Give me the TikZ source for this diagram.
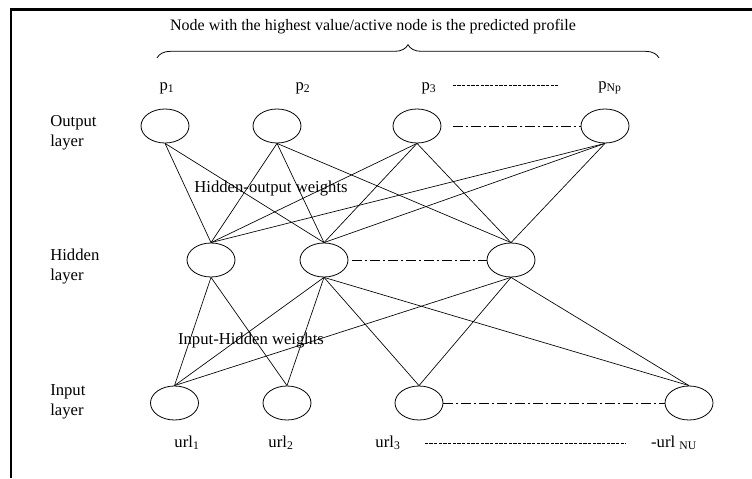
\documentclass[tikz,border=0pt]{standalone}
\usepackage{fontspec}
\setmainfont{Liberation Serif}
\usetikzlibrary{shapes.geometric,decorations.pathreplacing}
\tikzset{
    annunit/.style={draw, ellipse, minimum width=36pt, minimum height=25.5pt, inner sep=0pt, line width=0.6pt},
    annlayer/.style={align=left, anchor=west, inner sep=0pt, font=\fontsize{12.5}{15}\selectfont},
    anntext/.style={inner sep=0pt, font=\fontsize{12.5}{15}\selectfont},
    annline/.style={draw, line width=0.5pt},
    anndashdot/.style={draw, line width=0.6pt, dash pattern=on 7pt off 2.5pt on 1.5pt off 2.5pt},
    anndotted/.style={draw, line width=0.5pt, dash pattern=on 2.5pt off 1pt},
    annbrace/.style={draw, line width=0.6pt, decorate, decoration={brace, amplitude=10pt}},
    annframe/.style={draw, line width=1.7pt}
}

\begin{document}
\begin{tikzpicture}[x=0.75pt, y=0.75pt]
    \useasboundingbox (0,0) rectangle (752,478);
    \coordinate (frameBL) at (10.8,0);
    \coordinate (frameTL) at (10.8,468.5);
    \coordinate (frameTR) at (752,468.5);
    \draw[annframe] (frameBL) -- (frameTL) -- (frameTR);
    % output layer
    \node[annunit] (out1) at (165,352) {};
    \node[annunit] (out2) at (277,352) {};
    \node[annunit] (out3) at (417,352) {};
    \node[annunit] (out4) at (605,352) {};
    % hidden layer
    \node[annunit] (hid1) at (211,218) {};
    \node[annunit] (hid2) at (324,218) {};
    \node[annunit] (hid3) at (511,218) {};
    % input layer
    \node[annunit] (in1) at (174.5,75) {};
    \node[annunit] (in2) at (287,75) {};
    \node[annunit] (in3) at (419,75) {};
    \node[annunit] (in4) at (689,75) {};
    \node[annlayer] (outlabel) at (50,345) {Output\\layer};
    \node[annlayer] (hidlabel) at (50,211) {Hidden\\layer};
    \node[annlayer] (inlabel) at (50,76) {Input\\layer};
    \node[anntext, font=\fontsize{12}{14}\selectfont] (title) at (373,451) {Node with the highest value/active node is the predicted profile};
    \coordinate (braceL) at (157,420);
    \coordinate (braceR) at (659,420);
    \draw[annbrace] (braceL) -- (braceR);
    \node[anntext] (p1) at (167,390) {p\textsubscript{1}};
    \node[anntext] (p2) at (303,390) {p\textsubscript{2}};
    \node[anntext] (p3) at (429,390) {p\textsubscript{3}};
    \node[anntext] (pN) at (610,390) {p\textsubscript{Np}};
    \node[anntext] (url1) at (187,35) {url\textsubscript{1}};
    \node[anntext] (url2) at (281,35) {url\textsubscript{2}};
    \node[anntext] (url3) at (388,35) {url\textsubscript{3}};
    \node[anntext] (urlN) at (674,35) {-url \textsubscript{NU}};
    \node[anntext] (howts) at (271,289) {Hidden-output weights};
    \node[anntext] (ihwts) at (251,137) {Input-Hidden weights};
    % weights
    \foreach \o/\h in {out1/hid1, out1/hid2, out2/hid1, out2/hid2, out2/hid3, out3/hid1, out3/hid2, out3/hid3, out4/hid1, out4/hid2, out4/hid3}
        \draw[annline] (\o.south) -- (\h.north);
    \foreach \h/\i in {hid1/in1, hid1/in2, hid2/in1, hid2/in2, hid2/in3, hid2/in4, hid3/in1, hid3/in3, hid3/in4}
        \draw[annline] (\h.south) -- (\i.north);
    % continuation marks
    \draw[anndashdot, shorten <=9pt] (out3.east) -- (out4.west);
    \draw[anndashdot, shorten <=3pt] (hid2.east) -- (hid3.west);
    \draw[anndashdot] (in3.east) -- (in4.west);
    \draw[anndotted, shorten <=12pt, shorten >=30pt] ([yshift=2pt]p3.east) -- ([yshift=2pt]pN.west);
    \draw[anndotted, shorten <=18pt, shorten >=19pt] (url3.east) -- (urlN.west);
\end{tikzpicture}
\end{document}
